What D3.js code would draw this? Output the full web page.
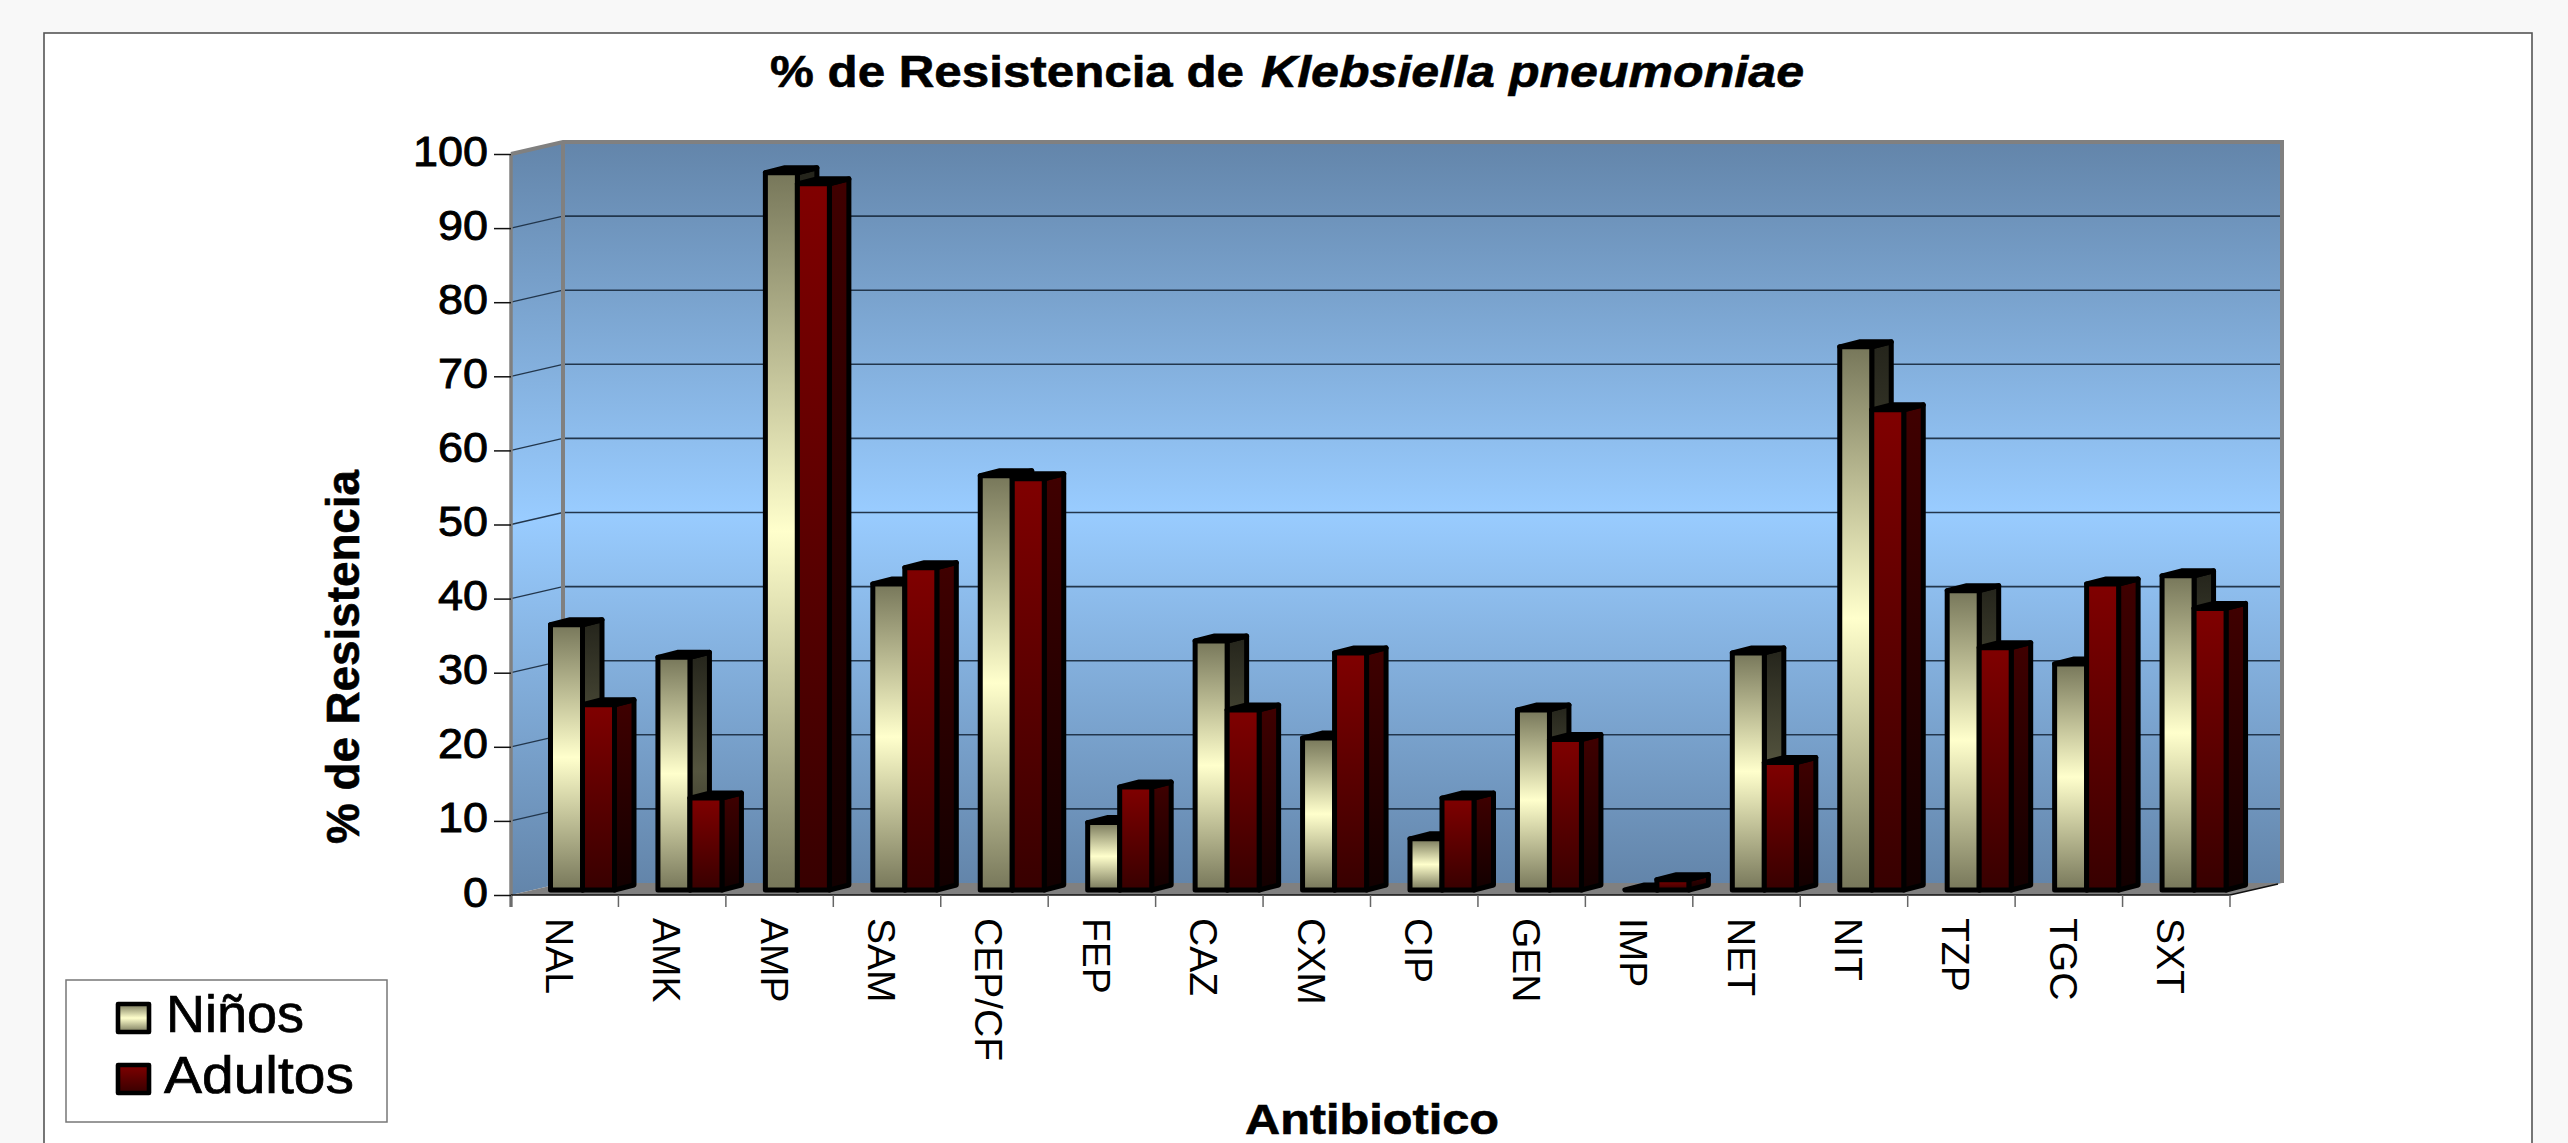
<!DOCTYPE html>
<html><head><meta charset="utf-8">
<script src="https://cdn.jsdelivr.net/npm/d3@7"></script>
<style>html,body{margin:0;padding:0;background:#f8f8f8;overflow:hidden}svg{display:block}text{font-family:"Liberation Sans",Arial,sans-serif;fill:#000}</style>
</head><body><svg id="c" width="2568" height="1143"></svg>
<script>
const categories=["NAL","AMK","AMP","SAM","CEP/CF","FEP","CAZ","CXM","CIP","GEN","IMP","NET","NIT","TZP","TGC","SXT"];
const ninos=[35.8,31.4,96.8,41.3,55.9,9.1,33.6,20.5,6.9,24.3,0,32,73.3,40.4,30.5,42.4];
const adultos=[25,12.4,95.3,43.5,55.5,13.9,24.3,32,12.4,20.3,1.4,17.2,64.8,32.7,41.3,38];
const yTicks=[0,10,20,30,40,50,60,70,80,90,100];
const seriesNames=["Niños","Adultos"];

const svg=d3.select("#c");
const defs=svg.append("defs");
function grad(id,stops){
  const g=defs.append("linearGradient").attr("id",id).attr("x1",0).attr("y1",0).attr("x2",0).attr("y2",1);
  stops.forEach(s=>g.append("stop").attr("offset",s[0]).attr("stop-color",s[1]));
}
grad("wall",[[0,"#6385aa"],[.5,"#99ccff"],[1,"#6385aa"]]);
grad("nF",[[0,"#77775a"],[.5,"#ffffcc"],[1,"#77775a"]]);
grad("aF",[[0,"#800000"],[1,"#370000"]]);
grad("nS",[[0,"#24241b"],[.5,"#55553f"],[1,"#24241b"]]);
grad("aS",[[0,"#400000"],[1,"#120000"]]);
grad("nL",[[0,"#77775a"],[.5,"#ffffcc"],[1,"#77775a"]]);
grad("aL",[[0,"#800000"],[1,"#370000"]]);

// panel
svg.append("rect").attr("x",44).attr("y",33).attr("width",2488).attr("height",1130).attr("fill","#fff").attr("stroke","#555").attr("stroke-width",1.6);

const x=d3.scaleBand().domain(categories).range([511,2230]);
const y=d3.scaleLinear().domain([0,100]).range([895,154]);
const wallDx=52,wallDy=-12,barDx=19.5,barDy=-5,barLift=-5,barOff=39.5,barW=32;
const right=2230,left=511;
const line=d3.line();

// side wall, back wall, floor
const g=svg.append("g");
g.append("path").attr("d",line([[left,y(100)],[left+wallDx,y(100)+wallDy],[left+wallDx,y(0)+wallDy],[left,y(0)]])+"Z").attr("fill","url(#wall)");
g.append("rect").attr("x",left+wallDx).attr("y",y(100)+wallDy).attr("width",right-left).attr("height",y(0)-y(100)).attr("fill","url(#wall)");
g.append("path").attr("d",line([[left,y(0)],[left+wallDx,y(0)+wallDy],[right+wallDx,y(0)+wallDy],[right,y(0)]])+"Z").attr("fill","#808080");

// gridlines
const gridTicks=yTicks.filter(t=>t>0&&t<100);
g.selectAll(".gb").data(gridTicks).join("line").attr("x1",left+wallDx).attr("x2",right+wallDx)
 .attr("y1",d=>y(d)+wallDy).attr("y2",d=>y(d)+wallDy).attr("stroke","#22364c").attr("stroke-width",1.6);
g.selectAll(".gs").data(gridTicks).join("line").attr("x1",left).attr("x2",left+wallDx)
 .attr("y1",d=>y(d)).attr("y2",d=>y(d)+wallDy).attr("stroke","#22364c").attr("stroke-width",1.3);

// wall edges
const edge=(pts,w,c)=>g.append("path").attr("d",line(pts)).attr("fill","none").attr("stroke",c||"#808080").attr("stroke-width",w);
edge([[left,y(100)],[left+wallDx,y(100)+wallDy],[right+wallDx,y(100)+wallDy],[right+wallDx,y(0)+wallDy]],4);
edge([[left+wallDx,y(100)+wallDy],[left+wallDx,y(0)+wallDy]],4);
edge([[left,y(100)],[left,y(0)+12]],3.5);
edge([[left,y(0)],[right,y(0)],[right+wallDx-4,y(0)+wallDy+1]],1.6,"#111");

// x ticks
g.selectAll(".xt").data(x.domain().concat("__end")).join("line")
 .attr("x1",d=>d==="__end"?right:x(d)).attr("x2",d=>d==="__end"?right:x(d))
 .attr("y1",y(0)).attr("y2",y(0)+12).attr("stroke","#666").attr("stroke-width",1.5);

// y axis
const ax=svg.append("g").attr("transform",`translate(${left},0)`).call(d3.axisLeft(y).tickValues(yTicks).tickSize(17).tickPadding(6));
ax.select(".domain").remove();
ax.selectAll("line").attr("stroke","#111").attr("stroke-width",1.5);
ax.selectAll("text").attr("font-size",42).attr("font-family","Liberation Sans").attr("dy",null).attr("y",11)
 .attr("stroke","#000").attr("stroke-width",0.9)
 .attr("textLength",function(d){return String(d).length*25}).attr("lengthAdjust","spacingAndGlyphs");

// bars
function bar(parent,cat,v,idx){
  const x0=x(cat)+barOff+idx*barW, x1=x0+barW, yt=y(v)+barLift, yb=y(0)+barLift;
  const k=idx?"a":"n";
  const b=parent.append("g").attr("stroke","#000").attr("stroke-width",5).attr("stroke-linejoin","round");
  b.append("path").attr("d",line([[x1,yt],[x1+barDx,yt+barDy],[x1+barDx,yb+barDy],[x1,yb]])+"Z").attr("fill",`url(#${k}S)`);
  b.append("path").attr("d",line([[x0,yt],[x1,yt],[x1+barDx,yt+barDy],[x0+barDx,yt+barDy]])+"Z").attr("fill",idx?"#500000":"#77775a");
  if(v>0) b.append("rect").attr("x",x0).attr("y",yt).attr("width",barW).attr("height",yb-yt).attr("fill",`url(#${k}F)`);
}
const bars=svg.append("g");
categories.forEach((c,i)=>{bar(bars,c,ninos[i],0);bar(bars,c,adultos[i],1);});

// category labels
svg.append("g").selectAll("text").data(categories).join("text")
 .attr("transform",d=>`translate(${x(d)+x.bandwidth()/2-19},918) rotate(90)`)
 .attr("font-size",39).text(d=>d);

// titles
function label(txt,xp,yp,size,len,opts){
  const t=svg.append("text").attr("x",xp).attr("y",yp).attr("font-size",size).attr("font-weight",opts&&opts.regular?"normal":"bold")
   .attr("textLength",len).attr("lengthAdjust","spacingAndGlyphs").text(txt);
  if(opts&&opts.italic)t.attr("font-style","italic");
  if(opts&&opts.rot)t.attr("transform",`rotate(-90 ${xp} ${yp})`);
  if(opts&&opts.sw)t.attr("stroke","#000").attr("stroke-width",opts.sw);
  return t;
}
label("% de Resistencia de",770,87,45,474,{sw:0.6});
label("Klebsiella pneumoniae",1261,87,45,543,{italic:true,sw:0.6});
label("% de Resistencia",359,844,46,374,{rot:true,sw:0.6});
label("Antibiotico",1245,1134,42,254,{sw:0.6});

// legend
const lg=svg.append("g");
lg.append("rect").attr("x",66).attr("y",980).attr("width",321).attr("height",142).attr("fill","#fff").attr("stroke","#777").attr("stroke-width",1.5);
const swY=[1004,1065],txtY=[1032,1093],txtX=[166,164],txtL=[138,190];
seriesNames.forEach((n,i)=>{
  lg.append("rect").attr("x",118).attr("y",swY[i]).attr("width",31).attr("height",28).attr("fill",`url(#${i?"aL":"nL"})`).attr("stroke","#000").attr("stroke-width",4.6).attr("stroke-linejoin","round");
  label(n,txtX[i],txtY[i],51,txtL[i],{regular:true,sw:0.7});
});
</script></body></html>
